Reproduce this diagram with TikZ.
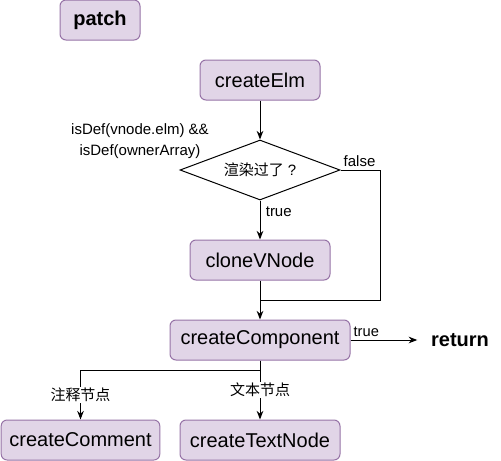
\documentclass[tikz,border=0pt]{standalone}
\usepackage{fontspec}
\setmainfont{Liberation Sans}
\newfontfamily\cjk{Noto Sans CJK SC}
\usetikzlibrary{shapes.geometric,arrows.meta}
\definecolor{boxfill}{HTML}{E1D5E7}
\definecolor{boxline}{HTML}{9673A6}
\tikzset{
  fnbox/.style={draw=boxline, fill=boxfill, rounded corners=4.5pt, minimum height=30pt, inner sep=0pt, font=\fontsize{15}{18}\selectfont},
  lbl/.style={font=\fontsize{11.25}{15.75}\selectfont, inner sep=1pt},
}
\begin{document}
\begin{tikzpicture}[x=0.75pt, y=-0.75pt, line width=0.75pt, >={Stealth[length=6.5pt,width=5pt]}, ->]
         \useasboundingbox (0,0) rectangle (501,461);
         %nodes
         \node[fnbox, minimum width=60pt, font=\fontsize{15}{18}\selectfont\bfseries] at (100,20) (patch) {patch};
         \node[fnbox, minimum width=90pt] at (260,80) (elm) {createElm};
         \node[draw, fill=white, diamond, aspect=2.67, lbl, minimum width=120pt, minimum height=45pt, inner sep=0pt] at (260,170) (cond) {{\cjk 渲染过了}\hspace{3pt}?};
         \node[lbl, align=center] at (140,141) (condnote) {isDef(vnode.elm) \&\&\\isDef(ownerArray)};
         \node[fnbox, minimum width=105pt] at (260,260) (clone) {cloneVNode};
         \coordinate (merge) at (260,300);
         \node[fnbox, minimum width=135pt] at (260,340) (comp) {createComponent};
         \node[font=\fontsize{15}{18}\selectfont\bfseries, inner xsep=10pt] at (460,340) (ret) {return};
         \node[fnbox, minimum width=119pt] at (80.5,440) (comment) {createComment};
         \node[fnbox, minimum width=120pt] at (260,440) (textnode) {createTextNode};
         %edges
         \path
             (elm) edge (cond)
             (cond) edge node[lbl, right, pos=0.275, inner xsep=4pt] {true} (clone)
             (clone) edge (comp)
             (comp) edge node[above right, pos=0, inner sep=2pt, font=\fontsize{11}{13}\selectfont] {true} (ret)
             (comp) edge node[lbl, fill=white] {\cjk 文本节点} (textnode);
         \draw[-] (cond.east) node[lbl, above right, inner sep=2pt] {false} -- ++(40,0) |- (merge);
         \draw (comp.south) -- ++(0,10) -| node[lbl, fill=white, pos=0.75] {\cjk 注释节点} (comment.north);
    \end{tikzpicture}
\end{document}
